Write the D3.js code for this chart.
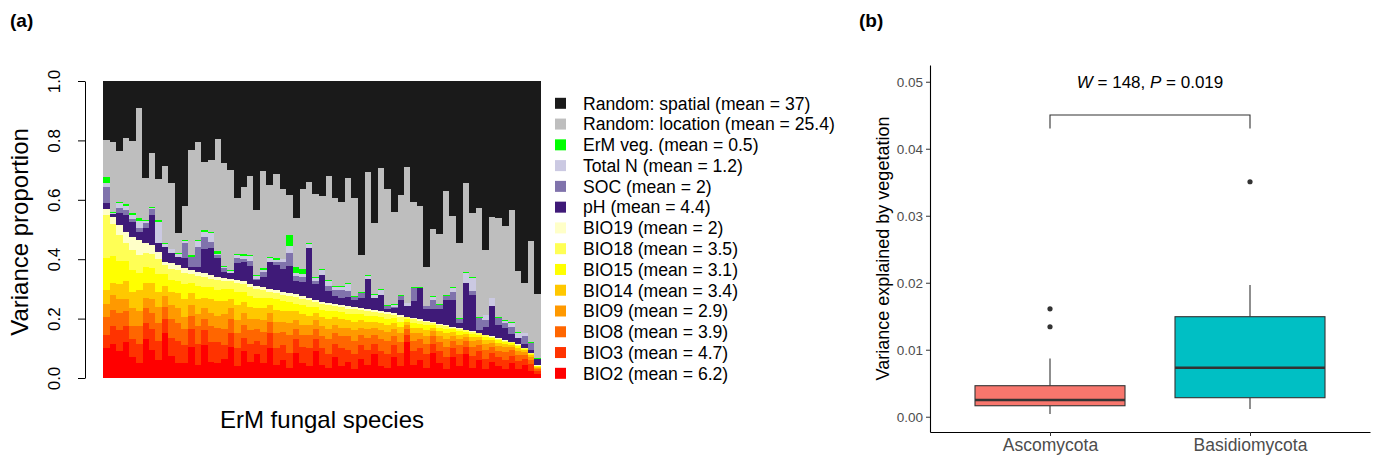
<!DOCTYPE html>
<html><head><meta charset="utf-8">
<script src="https://cdn.jsdelivr.net/npm/d3@7"></script>
<style>
body{margin:0;background:#fff}
svg{display:block}
text{font-family:"Liberation Sans",Arial,Helvetica,sans-serif}
</style>
</head><body>
<svg id="chart" width="1377" height="461"></svg>
<script>
// ---------- Panel (a) data: variance proportions per ErM fungal species (67 species) ----------
const bio2  = [0.100,0.115,0.090,0.120,0.070,0.050,0.130,0.095,0.060,0.150, 0.075,0.050,0.050,0.105,0.045,0.110,0.055,0.050,0.065,0.105, 0.040,0.090,0.055,0.080,0.050,0.100,0.045,0.060,0.035,0.085, 0.050,0.040,0.090,0.045,0.035,0.070,0.040,0.055,0.030,0.065, 0.045,0.080,0.040,0.035,0.070,0.040,0.120,0.045,0.060,0.035, 0.085,0.050,0.030,0.070,0.040,0.080,0.035,0.060,0.030,0.055, 0.040,0.030,0.050,0.030,0.045,0.025,0.012];
const bio3  = [0.045,0.060,0.070,0.055,0.060,0.065,0.055,0.070,0.065,0.050, 0.060,0.075,0.060,0.060,0.070,0.050,0.065,0.070,0.045,0.045, 0.060,0.045,0.060,0.045,0.060,0.050,0.055,0.050,0.050,0.045, 0.055,0.060,0.040,0.055,0.045,0.045,0.060,0.040,0.050,0.045, 0.050,0.035,0.050,0.045,0.040,0.045,0.025,0.045,0.040,0.045, 0.030,0.040,0.040,0.030,0.040,0.025,0.040,0.030,0.035,0.028, 0.030,0.032,0.025,0.028,0.020,0.022,0.010];
const bio8  = [0.060,0.055,0.060,0.050,0.045,0.060,0.050,0.055,0.060,0.040, 0.065,0.060,0.055,0.045,0.060,0.040,0.055,0.050,0.055,0.050, 0.050,0.045,0.045,0.040,0.045,0.040,0.050,0.045,0.060,0.035, 0.040,0.045,0.035,0.040,0.050,0.035,0.040,0.045,0.045,0.035, 0.040,0.030,0.040,0.045,0.030,0.035,0.020,0.035,0.030,0.035, 0.025,0.030,0.035,0.025,0.030,0.020,0.030,0.022,0.030,0.020, 0.022,0.025,0.018,0.020,0.014,0.015,0.008];
const bio9  = [0.045,0.050,0.045,0.040,0.060,0.050,0.035,0.045,0.055,0.035, 0.045,0.050,0.040,0.035,0.040,0.035,0.045,0.040,0.050,0.035, 0.045,0.040,0.040,0.035,0.040,0.030,0.040,0.035,0.040,0.030, 0.035,0.035,0.030,0.035,0.035,0.030,0.030,0.030,0.035,0.025, 0.030,0.025,0.030,0.030,0.025,0.030,0.015,0.025,0.022,0.028, 0.018,0.022,0.025,0.018,0.020,0.014,0.020,0.015,0.020,0.014, 0.016,0.016,0.012,0.014,0.009,0.010,0.005];
const bio14 = [0.045,0.040,0.050,0.060,0.055,0.070,0.050,0.055,0.050,0.035, 0.045,0.050,0.060,0.040,0.050,0.035,0.045,0.050,0.045,0.030, 0.050,0.035,0.040,0.035,0.040,0.025,0.040,0.035,0.040,0.030, 0.035,0.030,0.025,0.030,0.035,0.025,0.030,0.025,0.030,0.025, 0.025,0.020,0.025,0.025,0.020,0.022,0.010,0.020,0.018,0.020, 0.012,0.016,0.020,0.012,0.015,0.010,0.014,0.010,0.013,0.010, 0.011,0.011,0.007,0.010,0.006,0.006,0.003];
const bio15 = [0.110,0.090,0.080,0.070,0.075,0.060,0.055,0.050,0.060,0.040, 0.040,0.040,0.050,0.035,0.045,0.035,0.040,0.035,0.040,0.035, 0.045,0.035,0.035,0.035,0.035,0.025,0.035,0.035,0.030,0.025, 0.030,0.030,0.020,0.025,0.025,0.022,0.022,0.022,0.025,0.020, 0.020,0.018,0.020,0.020,0.016,0.018,0.008,0.016,0.013,0.015, 0.009,0.012,0.014,0.009,0.012,0.007,0.010,0.008,0.010,0.007, 0.008,0.008,0.005,0.006,0.004,0.004,0.003];
const bio18 = [0.145,0.110,0.085,0.060,0.065,0.060,0.045,0.048,0.050,0.030, 0.036,0.040,0.040,0.030,0.035,0.035,0.030,0.035,0.028,0.025, 0.030,0.027,0.030,0.030,0.025,0.020,0.021,0.021,0.021,0.023, 0.021,0.021,0.015,0.018,0.020,0.014,0.016,0.017,0.016,0.013, 0.014,0.013,0.013,0.014,0.012,0.016,0.006,0.011,0.010,0.010, 0.006,0.009,0.010,0.006,0.008,0.005,0.006,0.005,0.006,0.004, 0.005,0.004,0.003,0.004,0.002,0.001,0.001];
const bio19 = [0.018,0.023,0.035,0.038,0.046,0.050,0.034,0.030,0.025,0.012, 0.020,0.015,0.014,0.014,0.013,0.012,0.012,0.011,0.010,0.010, 0.010,0.010,0.010,0.010,0.010,0.010,0.010,0.010,0.010,0.010, 0.010,0.010,0.008,0.008,0.008,0.008,0.008,0.008,0.008,0.008, 0.008,0.008,0.008,0.008,0.006,0.006,0.003,0.005,0.004,0.005, 0.003,0.004,0.004,0.003,0.003,0.002,0.003,0.002,0.002,0.002, 0.002,0.002,0.001,0.001,0.001,0.001,0.001];
const ph    = [0.022,0.008,0.039,0.056,0.050,0.028,0.050,0.100,0.028,0.050, 0.034,0.028,0.034,0.011,0.017,0.084,0.090,0.062,0.020,0.017, 0.056,0.065,0.062,0.019,0.034,0.090,0.084,0.075,0.090,0.042, 0.048,0.168,0.055,0.090,0.040,0.028,0.025,0.030,0.022,0.035, 0.100,0.040,0.055,0.010,0.017,0.050,0.034,0.056,0.105,0.040, 0.045,0.050,0.084,0.090,0.017,0.157,0.123,0.011,0.026,0.103, 0.045,0.039,0.028,0.022,0.015,0.011,0.022];
const soc   = [0.052,0.000,0.017,0.017,0.011,0.011,0.017,0.020,0.000,0.000, 0.000,0.000,0.050,0.034,0.067,0.039,0.022,0.010,0.011,0.000, 0.017,0.009,0.017,0.006,0.017,0.000,0.011,0.025,0.045,0.017, 0.017,0.000,0.010,0.000,0.018,0.020,0.025,0.022,0.012,0.015, 0.000,0.000,0.000,0.011,0.003,0.013,0.000,0.045,0.000,0.008, 0.028,0.013,0.015,0.028,0.013,0.000,0.011,0.039,0.022,0.000, 0.022,0.017,0.022,0.000,0.025,0.022,0.000];
const totalN= [0.016,0.004,0.017,0.013,0.011,0.025,0.006,0.003,0.073,0.010, 0.013,0.011,0.008,0.000,0.020,0.017,0.028,0.006,0.006,0.008, 0.011,0.009,0.017,0.009,0.009,0.015,0.006,0.008,0.022,0.012, 0.010,0.013,0.010,0.017,0.017,0.011,0.011,0.022,0.000,0.000, 0.012,0.012,0.015,0.000,0.008,0.000,0.011,0.000,0.000,0.000, 0.011,0.000,0.000,0.011,0.000,0.034,0.045,0.000,0.017,0.025, 0.000,0.009,0.013,0.017,0.009,0.000,0.000];
const ermVeg= [0.018,0.004,0.005,0.006,0.009,0.009,0.005,0.004,0.006,0.002, 0.003,0.003,0.003,0.006,0.004,0.007,0.003,0.007,0.003,0.003, 0.003,0.008,0.003,0.004,0.004,0.003,0.006,0.003,0.040,0.019, 0.017,0.003,0.003,0.003,0.003,0.003,0.003,0.004,0.003,0.003, 0.003,0.003,0.002,0.003,0.003,0.004,0.002,0.004,0.004,0.003, 0.003,0.003,0.003,0.003,0.003,0.004,0.003,0.002,0.002,0.003, 0.003,0.003,0.003,0.002,0.003,0.003,0.003];
const randomLocation = [0.125,0.237,0.171,0.222,0.241,0.370,0.140,0.182,0.138,0.260, 0.220,0.065,0.115,0.353,0.330,0.229,0.244,0.378,0.345,0.337, 0.188,0.226,0.266,0.218,0.329,0.242,0.284,0.233,0.133,0.165, 0.267,0.206,0.279,0.248,0.349,0.294,0.284,0.354,0.329,0.125, 0.346,0.239,0.410,0.389,0.310,0.337,0.458,0.287,0.273,0.131, 0.226,0.236,0.351,0.242,0.252,0.298,0.217,0.367,0.218,0.272, 0.336,0.316,0.379,0.207,0.166,0.342,0.214];
const randomSpatial  = [0.199,0.204,0.236,0.193,0.202,0.092,0.328,0.243,0.330,0.286, 0.344,0.513,0.421,0.232,0.204,0.272,0.266,0.196,0.277,0.300, 0.395,0.356,0.320,0.434,0.302,0.350,0.313,0.365,0.384,0.462, 0.365,0.339,0.380,0.386,0.320,0.395,0.406,0.326,0.395,0.586, 0.307,0.477,0.292,0.365,0.440,0.384,0.288,0.406,0.421,0.625, 0.499,0.515,0.369,0.453,0.547,0.344,0.443,0.429,0.569,0.457, 0.460,0.488,0.434,0.639,0.681,0.538,0.718];

// stacking order bottom -> top
const seriesKeys   = ["BIO2","BIO3","BIO8","BIO9","BIO14","BIO15","BIO18","BIO19","pH","SOC","Total N","ErM veg.","Random: location","Random: spatial"];
const seriesValues = [bio2,bio3,bio8,bio9,bio14,bio15,bio18,bio19,ph,soc,totalN,ermVeg,randomLocation,randomSpatial];
const seriesColors = ["#FF0000","#FF3300","#FF6600","#FF9900","#FFC800","#FFFF00","#FFFF55","#FFFFC8","#3F1A78","#8073AC","#CBC9E2","#00FF00","#BEBEBE","#1A1A1A"];
const legendLabels = ["Random: spatial (mean = 37)","Random: location (mean = 25.4)","ErM veg. (mean = 0.5)","Total N (mean = 1.2)","SOC (mean = 2)","pH (mean = 4.4)","BIO19 (mean = 2)","BIO18 (mean = 3.5)","BIO15 (mean = 3.1)","BIO14 (mean = 3.4)","BIO9 (mean = 2.9)","BIO8 (mean = 3.9)","BIO3 (mean = 4.7)","BIO2 (mean = 6.2)"];
const yTicksA = [0,0.2,0.4,0.6,0.8,1.0];

// ---------- Panel (b) data: boxplot statistics ----------
const groups      = ["Ascomycota","Basidiomycota"];
const groupColors = ["#F8766D","#00BFC4"];
const boxQ1       = [0.00164,0.00284];
const boxMedian   = [0.00249,0.00731];
const boxQ3       = [0.00463,0.01493];
const whiskerLow  = [0.00040,0.00115];
const whiskerHigh = [0.00870,0.01966];
const outliers    = [[0.01610,0.01343],[0.03507]];
const yTicksB     = [0,0.01,0.02,0.03,0.04,0.05];

const svg = d3.select("#chart");

// ================= Panel (a) =================
const nSp = bio2.length;
const rows = d3.range(nSp).map(i => {
  const r = {sp: i + 1};
  seriesKeys.forEach((k, j) => r[k] = seriesValues[j][i]);
  return r;
});
const xA = d3.scaleBand().domain(rows.map(d => d.sp)).range([103, 541]).padding(0);
const yA = d3.scaleLinear().domain([0, 1]).range([378, 81]);
const stack = d3.stack().keys(seriesKeys)(rows);

const gA = svg.append("g");
gA.selectAll("g.layer").data(stack).join("g")
  .attr("class","layer")
  .attr("fill", (d, i) => seriesColors[i])
  .selectAll("rect").data(d => d).join("rect")
  .attr("x", d => xA(d.data.sp))
  .attr("width", xA.bandwidth() + 0.4)
  .attr("y", d => yA(Math.min(1, d[1])))
  .attr("height", d => Math.max(0, yA(d[0]) - yA(Math.min(1, d[1]))))
  .attr("shape-rendering","crispEdges");

const axA = svg.append("g").attr("transform","translate(85,0)")
  .call(d3.axisLeft(yA).tickValues(yTicksA).tickFormat(d3.format(".1f")).tickSize(7).tickSizeOuter(0));
axA.select(".domain").attr("stroke","#000");
axA.selectAll(".tick line").attr("stroke","#000");
axA.selectAll(".tick text")
  .attr("transform","rotate(-90)")
  .attr("x",0).attr("y",-25).attr("dy",0)
  .attr("text-anchor","middle")
  .attr("fill","#000")
  .style("font-size","17px");

svg.append("text").attr("transform","translate(28,232) rotate(-90)")
  .attr("text-anchor","middle").style("font-size","24px").attr("fill","#000")
  .text("Variance proportion");
svg.append("text").attr("x",322).attr("y",428)
  .attr("text-anchor","middle").style("font-size","24px").attr("fill","#000")
  .text("ErM fungal species");

// legend
const legColors = seriesColors.slice().reverse();
const lg = svg.append("g");
legendLabels.forEach((lab, i) => {
  const cy = 103.3 + i * 20.77;
  lg.append("rect").attr("x",555).attr("y",cy - 5.5).attr("width",11).attr("height",11).attr("fill",legColors[i]);
  lg.append("text").attr("x",583).attr("y",cy).attr("dy","0.36em")
    .style("font-size","17.6px").attr("fill","#000").text(lab);
});

svg.append("text").attr("x",10).attr("y",27).style("font-size","19px").style("font-weight","bold").text("(a)");

// ================= Panel (b) =================
const xB = d3.scalePoint().domain(groups).range([930, 1370]).padding(0.6);
const yB = d3.scaleLinear().domain([-0.00228, 0.0525]).range([432, 65]);
const boxW = xB.step() * 0.75;

const gB = svg.append("g");
groups.forEach((g, i) => {
  const cx = xB(g);
  gB.append("line").attr("x1",cx).attr("x2",cx).attr("y1",yB(boxQ3[i])).attr("y2",yB(whiskerHigh[i])).attr("stroke","#333").attr("stroke-width",1.1);
  gB.append("line").attr("x1",cx).attr("x2",cx).attr("y1",yB(boxQ1[i])).attr("y2",yB(whiskerLow[i])).attr("stroke","#333").attr("stroke-width",1.1);
  gB.append("rect").attr("x",cx - boxW/2).attr("width",boxW)
    .attr("y",yB(boxQ3[i])).attr("height",yB(boxQ1[i]) - yB(boxQ3[i]))
    .attr("fill",groupColors[i]).attr("stroke","#333").attr("stroke-width",1.1);
  gB.append("line").attr("x1",cx - boxW/2).attr("x2",cx + boxW/2).attr("y1",yB(boxMedian[i])).attr("y2",yB(boxMedian[i])).attr("stroke","#333").attr("stroke-width",2.4);
  outliers[i].forEach(v => {
    gB.append("circle").attr("cx",cx).attr("cy",yB(v)).attr("r",2.6).attr("fill","#333");
  });
});

const axBy = svg.append("g").attr("transform","translate(930,0)")
  .call(d3.axisLeft(yB).tickValues(yTicksB).tickFormat(d3.format(".2f")).tickSize(4).tickPadding(3).tickSizeOuter(0));
axBy.select(".domain").attr("stroke","#000").attr("stroke-width",1.1);
axBy.selectAll(".tick line").attr("stroke","#333");
axBy.selectAll(".tick text").attr("fill","#4D4D4D").style("font-size","13.5px");

const axBx = svg.append("g").attr("transform","translate(0,432)")
  .call(d3.axisBottom(xB).tickSize(4).tickPadding(3).tickSizeOuter(0));
axBx.select(".domain").attr("stroke","#000").attr("stroke-width",1.1);
axBx.selectAll(".tick line").attr("stroke","#333");
axBx.selectAll(".tick text").attr("fill","#4D4D4D").style("font-size","17.5px");

svg.append("text").attr("transform","translate(889,248.5) rotate(-90)")
  .attr("text-anchor","middle").style("font-size","18px").attr("fill","#000")
  .text("Variance explained by vegetation");

// significance bracket
const bx1 = xB(groups[0]), bx2 = xB(groups[1]);
svg.append("path").attr("d",`M${bx1},128.5V115H${bx2}V128.5`).attr("fill","none").attr("stroke","#333").attr("stroke-width",1.1);
const ann = svg.append("text").attr("x",(bx1 + bx2)/2).attr("y",88).attr("text-anchor","middle").style("font-size","17px").attr("fill","#000");
ann.append("tspan").style("font-style","italic").text("W");
ann.append("tspan").text(" = 148, ");
ann.append("tspan").style("font-style","italic").text("P");
ann.append("tspan").text(" = 0.019");

svg.append("text").attr("x",859).attr("y",27).style("font-size","19px").style("font-weight","bold").text("(b)");
</script>
</body></html>
